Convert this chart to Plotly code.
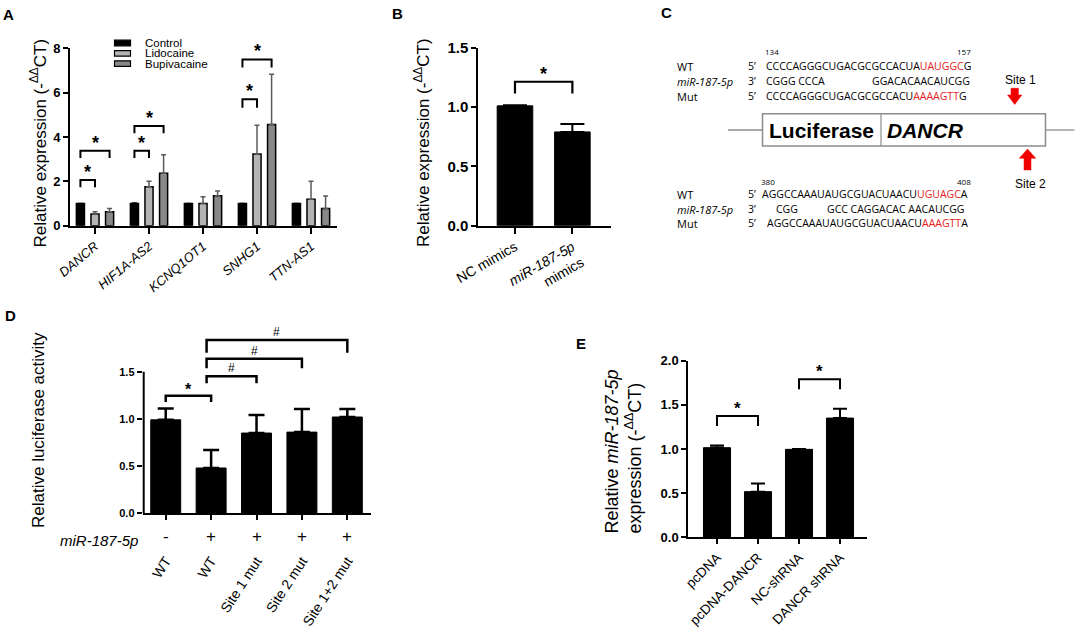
import plotly.graph_objects as go

W, H = 1084, 631
AR = "Arial, Liberation Sans, sans-serif"
SQ = "Open Sans, sans-serif"

# ---------------- data ----------------
# Panel A
a_genes = ["DANCR", "HIF1A-AS2", "KCNQ1OT1", "SNHG1", "TTN-AS1"]
a_series = ["Control", "Lidocaine", "Bupivacaine"]
a_control = [1.00, 1.00, 1.00, 1.00, 1.00]
a_control_err = [0.00, 0.02, 0.00, 0.00, 0.00]
a_lido = [0.53, 1.76, 1.00, 3.23, 1.19]
a_lido_err = [0.10, 0.25, 0.31, 1.30, 0.81]
a_bupi = [0.63, 2.36, 1.35, 4.56, 0.78]
a_bupi_err = [0.15, 0.84, 0.21, 2.27, 0.56]
a_yticks = [0, 2, 4, 6, 8]
# (gene index, bar i, bar j, top, leg bottom, label)
a_brackets = [(0, 0, 1, 2.06, 1.73, "*"), (0, 0, 2, 3.38, 3.05, "*"),
              (1, 0, 1, 3.38, 3.05, "*"), (1, 0, 2, 4.50, 4.17, "*"),
              (3, 0, 1, 5.70, 5.32, "*"), (3, 0, 2, 7.50, 7.13, "*")]

# Panel B
b_labels = ["NC mimics", "<i>miR-187-5p</i><br>mimics"]
b_vals = [1.01, 0.79]
b_err = [0.005, 0.067]
b_yticks = [0, 0.5, 1.0, 1.5]
b_brackets = [(0, 1, 1.213, 1.115, "*")]

# Panel D
d_labels = ["WT", "WT", "Site 1 mut", "Site 2 mut", "Site 1+2 mut"]
d_mir = ["-", "+", "+", "+", "+"]
d_vals = [0.99, 0.48, 0.85, 0.86, 1.02]
d_err = [0.12, 0.19, 0.19, 0.245, 0.085]
d_yticks = [0, 0.5, 1.0, 1.5]
d_brackets = [(0, 1, 1.246, 1.18, "*"), (1, 2, 1.451, 1.377, "#"),
              (1, 3, 1.638, 1.536, "#"), (1, 4, 1.836, 1.70, "#")]

# Panel E
e_labels = ["pcDNA", "pcDNA-DANCR", "NC-shRNA", "DANCR shRNA"]
e_vals = [1.015, 0.517, 0.996, 1.35]
e_err = [0.025, 0.093, 0.005, 0.107]
e_yticks = [0, 0.5, 1.0, 1.5, 2.0]
e_brackets = [(0, 1, 1.374, 1.26, "*"), (2, 3, 1.789, 1.676, "*")]

# Panel C sequences
c_top_pos = ["134", "157"]
c_top_wt = ["CCCCAGGGCUGACGCGCCACUA", "UAUGGC", "G"]
c_top_mir = ["CGGG CCCA", "GGACACAACAUCGG"]
c_top_mut = ["CCCCAGGGCUGACGCGCCACU", "AAAAGTT", "G"]
c_bot_pos = ["380", "408"]
c_bot_wt = ["AGGCCAAAUAUGCGUACUAACU", "UGUAGC", "A"]
c_bot_mir = ["CGG", "GCC CAGGACAC AACAUCGG"]
c_bot_mut = ["AGGCCAAAUAUGCGUACUAACU", "AAAGTT", "A"]


# ---------------- helpers ----------------
def px(x):
    return x / W


def py(y):
    return 1 - y / H


fig = go.Figure()
ann = []
shapes = []


def ax_style(**kw):
    d = dict(showline=True, linecolor="black", linewidth=2, ticks="outside",
             ticklen=5, tickwidth=2, tickcolor="black", showgrid=False,
             zeroline=False, fixedrange=True, automargin=False)
    d.update(kw)
    return d


def bracket(xr, yr, x1, x2, top, bot, label, lw=2, fsize=18, bold=True, yshift=-4):
    shapes.append(dict(type="path", xref=xr, yref=yr, layer="above",
                       path=f"M {x1},{bot} L {x1},{top} L {x2},{top} L {x2},{bot}",
                       line=dict(color="black", width=lw)))
    ann.append(dict(xref=xr, yref=yr, x=(x1 + x2) / 2, y=top, text=label,
                    showarrow=False, yanchor="bottom", yshift=yshift,
                    font=dict(family=AR, size=fsize, color="black",
                              weight="bold" if bold else "normal")))


def text(x, y, t, size=12, family=AR, xanchor="center", angle=0, bold=False,
         italic=False, align="center"):
    ann.append(dict(xref="paper", yref="paper", x=px(x), y=py(y), text=t,
                    showarrow=False, xanchor=xanchor, yanchor="middle",
                    textangle=angle, align=align,
                    font=dict(family=family, size=size, color="black",
                              weight="bold" if bold else "normal",
                              style="italic" if italic else "normal")))


# ---------------- Panel A ----------------
a_width = 0.15
a_centers = [-0.27, 0.0, 0.27]
a_vals = [a_control, a_lido, a_bupi]
a_errs = [a_control_err, a_lido_err, a_bupi_err]
a_colors = ["black", "#b4b4b4", "#888888"]
a_errcol = ["black", "#5a5a5a", "#5a5a5a"]
a_x = list(range(len(a_genes)))
for k in range(3):
    fig.add_trace(go.Bar(
        x=a_x, y=a_vals[k], width=a_width, offset=a_centers[k] - a_width / 2,
        marker=dict(color=a_colors[k], line=dict(color="black", width=1.5)),
        error_y=dict(type="data", array=a_errs[k], arrayminus=[0] * len(a_x),
                     symmetric=False, color=a_errcol[k], thickness=1.5, width=2.5),
        xaxis="x", yaxis="y", name=a_series[k], showlegend=False))
for g, i, j, top, bot, lab in a_brackets:
    bracket("x", "y", g + a_centers[i], g + a_centers[j], top, bot, lab)

# legend A (manual)
leg_y = [43, 53.4, 63.6]
for k in range(3):
    shapes.append(dict(type="rect", xref="paper", yref="paper",
                       x0=px(114.5), x1=px(130.5), y0=py(leg_y[k] - 2.8), y1=py(leg_y[k] + 2.8),
                       fillcolor=a_colors[k], line=dict(color="black", width=1.2)))
    text(143, leg_y[k], a_series[k], size=11.5, xanchor="left")

# ---------------- Panel B ----------------
b_x = list(range(len(b_labels)))
fig.add_trace(go.Bar(
    x=b_x, y=b_vals, width=0.62, marker=dict(color="black", line=dict(color="black", width=1)),
    error_y=dict(type="data", array=b_err, arrayminus=[0] * len(b_x), symmetric=False,
                 color="black", thickness=2, width=12),
    xaxis="x2", yaxis="y2", showlegend=False))
for i, j, top, bot, lab in b_brackets:
    bracket("x2", "y2", i, j, top, bot, lab, lw=2.2)

# ---------------- Panel D ----------------
d_x = list(range(len(d_labels)))
fig.add_trace(go.Bar(
    x=d_x, y=d_vals, width=0.66, marker=dict(color="black", line=dict(color="black", width=1)),
    error_y=dict(type="data", array=d_err, arrayminus=[0] * len(d_x), symmetric=False,
                 color="black", thickness=2.5, width=8),
    xaxis="x3", yaxis="y3", showlegend=False))
d_xrange = [-0.507, 4.515]
d_yrange = [0, 1.95]
for i, j, top, bot, lab in d_brackets:
    if lab == "*":
        bracket("x3", "y3", i, j, top, bot, lab, lw=2.5, fsize=16, yshift=-4)
    else:
        bracket("x3", "y3", i - 0.1, j, top, bot, lab, lw=2.5, fsize=12, bold=False, yshift=-1)
# y spine of D drawn only up to the top tick
shapes.append(dict(type="line", xref="x3", yref="y3", x0=d_xrange[0], x1=d_xrange[0],
                   y0=0, y1=d_yticks[-1], line=dict(color="black", width=4)))
for i, s in enumerate(d_mir):
    ann.append(dict(xref="x3", yref="paper", x=i, y=py(536), text=s, showarrow=False,
                    yanchor="middle", font=dict(family=AR, size=17, color="black")))
text(99, 540, "<i>miR-187-5p</i>", size=15)

# ---------------- Panel E ----------------
e_x = list(range(len(e_labels)))
fig.add_trace(go.Bar(
    x=e_x, y=e_vals, width=0.66, marker=dict(color="black", line=dict(color="black", width=1)),
    error_y=dict(type="data", array=e_err, arrayminus=[0] * len(e_x), symmetric=False,
                 color="black", thickness=2, width=7),
    xaxis="x4", yaxis="y4", showlegend=False))
for i, j, top, bot, lab in e_brackets:
    bracket("x4", "y4", i, j, top, bot, lab, lw=2, fsize=17)

# ---------------- axis titles & panel letters ----------------
dct = "(-<sup>ΔΔ</sup>CT)"
text(38.5, 143, "Relative expression " + dct, size=17, angle=-90)
text(422, 143, "Relative expression " + dct, size=17, angle=-90)
text(39, 430, "Relative luciferase activity", size=17, angle=-90)
text(622.5, 452, "Relative <i>miR-187-5p</i><br>expression " + dct, size=18, angle=-90,
     align="left")
for lab, x, y in [("A", 8.5, 14.5), ("B", 397, 13.5), ("C", 666, 13), ("D", 10, 315),
                  ("E", 581, 343)]:
    text(x, y, lab, size=15, bold=True)

# ---------------- Panel C diagram ----------------
RED = "rgb(226,32,32)"


def red(s):
    return f"<span style='color:{RED}'>{s}</span>"


gray = "#8c8c8c"
shapes.append(dict(type="line", xref="paper", yref="paper", x0=px(728), x1=px(762.5),
                   y0=py(130), y1=py(130), line=dict(color=gray, width=1.3)))
shapes.append(dict(type="line", xref="paper", yref="paper", x0=px(1045.5), x1=px(1074.5),
                   y0=py(130), y1=py(130), line=dict(color=gray, width=1.3)))
shapes.append(dict(type="rect", xref="paper", yref="paper", x0=px(762.5), x1=px(1045.5),
                   y0=py(146), y1=py(113.8), line=dict(color=gray, width=1.5),
                   fillcolor="white"))
shapes.append(dict(type="line", xref="paper", yref="paper", x0=px(881), x1=px(881),
                   y0=py(146), y1=py(113.8), line=dict(color=gray, width=1.2)))


def poly(pts):
    p = "M " + " L ".join(f"{px(x)},{py(y)}" for x, y in pts) + " Z"
    shapes.append(dict(type="path", xref="paper", yref="paper", path=p,
                       fillcolor="rgb(240,0,0)", line=dict(color="rgb(240,0,0)", width=0.5)))


# down arrow (site 1)
poly([(1011, 88.3), (1018.4, 88.3), (1018.4, 95), (1021.8, 95), (1014.7, 104.5),
      (1007.6, 95), (1011, 95)])
# up arrow (site 2)
poly([(1024, 170), (1031, 170), (1031, 158.3), (1035.7, 158.3), (1027.5, 149),
      (1019.3, 158.3), (1024, 158.3)])

text(821.5, 130.5, "Luciferase", size=21, bold=True)
text(925.5, 130.5, "<i>DANCR</i>", size=21, bold=True)
text(1020.5, 80, "Site 1", size=12)
text(1030.5, 184, "Site 2", size=12)

SEQ = 10.5
text(772, 52, c_top_pos[0], size=8, family=SQ)
text(964, 52, c_top_pos[1], size=8, family=SQ)
text(767.5, 181, c_bot_pos[0], size=8, family=SQ)
text(964, 181, c_bot_pos[1], size=8, family=SQ)

rows = [(66, "WT", "5’"), (81, "<i>miR-187-5p</i>", "3’"), (96, "Mut", "5’"),
        (194.3, "WT", "5’"), (209.3, "<i>miR-187-5p</i>", "3’"), (223.3, "Mut", "5’")]
for y, name, end in rows:
    text(675, y, name, size=11, family=SQ, xanchor="left")
    text(746, y, end, size=SEQ, family=SQ, xanchor="left")

text(764, 66, c_top_wt[0] + red(c_top_wt[1]) + c_top_wt[2], size=SEQ, family=SQ, xanchor="left")
text(764, 81, c_top_mir[0], size=SEQ, family=SQ, xanchor="left")
text(869.5, 81, c_top_mir[1], size=SEQ, family=SQ, xanchor="left")
text(764, 96, c_top_mut[0] + red(c_top_mut[1]) + c_top_mut[2], size=SEQ, family=SQ, xanchor="left")
text(760, 194.3, c_bot_wt[0] + red(c_bot_wt[1]) + c_bot_wt[2], size=SEQ, family=SQ, xanchor="left")
text(773.5, 209.3, c_bot_mir[0], size=SEQ, family=SQ, xanchor="left")
text(825, 209.3, c_bot_mir[1], size=SEQ, family=SQ, xanchor="left")
text(765, 223.3, c_bot_mut[0] + red(c_bot_mut[1]) + c_bot_mut[2], size=SEQ, family=SQ, xanchor="left")

# ---------------- layout ----------------
d_unit = (513.3 - 371.7) / 1.5
fig.update_layout(
    template="none",
    width=W, height=H, margin=dict(l=0, r=0, t=0, b=0, pad=0), autosize=False,
    paper_bgcolor="white", plot_bgcolor="white", barmode="overlay",
    font=dict(family=AR, color="black"), showlegend=False,
    xaxis=ax_style(domain=[px(70), px(337)], range=[-0.463, 4.481], anchor="y",
                   tickvals=a_x, ticktext=[f"<i>{g}</i>" for g in a_genes],
                   tickangle=-40, ticklen=6, tickfont=dict(family=AR, size=13, color="black")),
    yaxis=ax_style(domain=[py(225.7), py(48.3)], range=[0, 8], anchor="x",
                   tickvals=a_yticks,
                   tickfont=dict(family=AR, size=13, color="black", weight="bold")),
    xaxis2=ax_style(domain=[px(478.3), px(610.6)], range=[-0.639, 1.666], anchor="y2",
                    tickvals=b_x, ticktext=b_labels, tickangle=-30, ticklen=6,
                    tickfont=dict(family=AR, size=14, color="black")),
    yaxis2=ax_style(domain=[py(225.7), py(47.7)], range=[0, 1.5], anchor="x2",
                    tickvals=b_yticks, tickformat=".1f",
                    tickfont=dict(family=AR, size=15, color="black", weight="bold")),
    xaxis3=ax_style(domain=[px(142.7), px(370.7)], range=d_xrange, anchor="y3",
                    tickvals=d_x, ticktext=d_labels, tickangle=-57, ticklabelstandoff=27,
                    tickfont=dict(family=AR, size=14, color="black")),
    yaxis3=ax_style(domain=[py(513.3), py(513.3 - d_yrange[1] * d_unit)], range=d_yrange,
                    anchor="x3", showline=False, tickvals=d_yticks, tickformat=".1f",
                    tickfont=dict(family=AR, size=11, color="black", weight="bold")),
    xaxis4=ax_style(domain=[px(688.3), px(867.3)], range=[-0.7, 3.666], anchor="y4",
                    tickvals=e_x, ticktext=e_labels, tickangle=-45,
                    tickfont=dict(family=AR, size=13.5, color="black")),
    yaxis4=ax_style(domain=[py(537.3), py(360.7)], range=[0, 2], anchor="x4",
                    tickvals=e_yticks, tickformat=".1f",
                    tickfont=dict(family=AR, size=13, color="black", weight="bold")),
    annotations=ann, shapes=shapes,
)

fig.write_html("out.html", config={"displayModeBar": False},
               post_script="document.body.style.margin='0';document.body.style.overflow='hidden';")
